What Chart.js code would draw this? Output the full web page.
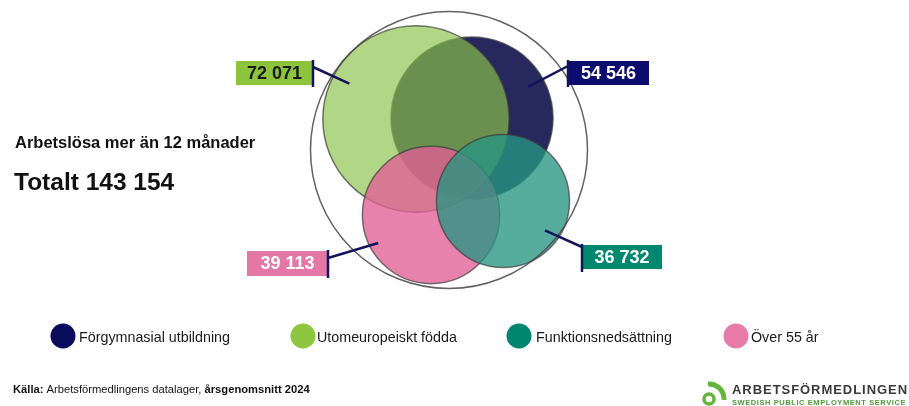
<!DOCTYPE html>
<html lang="sv">
<head>
<meta charset="utf-8">
<script src="https://cdn.jsdelivr.net/npm/chart.js@4/dist/chart.umd.min.js"></script>
<style>
  html, body { margin: 0; padding: 0; background: #fff; }
  #wrap { width: 909px; height: 406px; position: relative; }
</style>
</head>
<body>
<div id="wrap"><canvas id="chart"></canvas></div>
<script>
// data
const setLabels = ['Förgymnasial utbildning', 'Utomeuropeiskt födda', 'Funktionsnedsättning', 'Över 55 år'];
const setValues = [54546, 72071, 36732, 39113];
const totalLabel = 'Totalt';
const totalValue = 143154;
const titleText = 'Arbetslösa mer än 12 månader';
const sourceLabel = 'Källa:';
const sourceText = 'Arbetsförmedlingens datalager, ';
const sourceBold = 'årsgenomsnitt 2024';

// layout of the circle centres (chart units, total circle at 0,0)
const centreX = [23, -33, 54, -18];
const centreY = [-32, -31, 51, 65];

const fills = ['rgba(20,22,80,0.92)', 'rgba(140,195,75,0.68)', 'rgba(40,150,130,0.78)', 'rgba(225,95,150,0.78)'];
const solid = ['#0b0b5c', '#8dc63f', '#00866f', '#e87aa7'];
const boxColors = ['#0c0c6e', '#8cc43c', '#00876f', '#e377a6'];
const boxText = ['#ffffff', '#1a1a1a', '#ffffff', '#ffffff'];

const K = 0.347;
const fmt = v => String(v).replace(/\B(?=(\d{3})+(?!\d))/g, ' ');

// draw order: navy, green, pink, teal
const drawOrder = [0, 1, 3, 2];

const FONT = '"Liberation Sans", Arial, sans-serif';

// label boxes: [x, y, w, h], bar x, bar top, bar bottom, leader y, angle, fraction
const callouts = [
  { box: [568, 61, 81, 24], bx: 568, by0: 60, by1: 87, ly: 66, ang: -29, f: 0.79 },
  { box: [236, 61, 77, 24], bx: 313, by0: 60, by1: 87, ly: 67, ang: 208, f: 0.81 },
  { box: [582, 245, 80, 24], bx: 582, by0: 244, by1: 272, ly: 247, ang: 35, f: 0.77 },
  { box: [247, 251, 81, 25], bx: 328, by0: 250, by1: 278, ly: 258, ang: 152, f: 0.87 }
];

const legendPos = [
  { cx: 63, tx: 79 },
  { cx: 303, tx: 317 },
  { cx: 519, tx: 536 },
  { cx: 736, tx: 751 }
];

function spaced(ctx, text, x, y, width) {
  ctx.letterSpacing = '0px';
  const w = ctx.measureText(text).width;
  ctx.letterSpacing = ((width - w) / text.length) + 'px';
  ctx.fillText(text, x, y);
  ctx.letterSpacing = '0px';
}

const extras = {
  id: 'extras',
  afterDatasetsDraw(chart) {
    const ctx = chart.ctx;
    const meta = chart.getDatasetMeta(1);
    ctx.save();
    // callouts
    drawOrder.forEach((idx, j) => {
      const c = callouts[idx];
      const el = meta.data[j];
      const r = K * Math.sqrt(setValues[idx]);
      const a = c.ang * Math.PI / 180;
      const ex = el.x + Math.cos(a) * r * c.f;
      const ey = el.y + Math.sin(a) * r * c.f;
      ctx.fillStyle = boxColors[idx];
      ctx.fillRect(c.box[0], c.box[1], c.box[2], c.box[3]);
      ctx.strokeStyle = '#14145a';
      ctx.lineWidth = 2.5;
      ctx.beginPath();
      ctx.moveTo(c.bx, c.by0);
      ctx.lineTo(c.bx, c.by1);
      ctx.moveTo(c.bx, c.ly);
      ctx.lineTo(ex, ey);
      ctx.stroke();
      ctx.fillStyle = boxText[idx];
      ctx.font = 'bold 18px ' + FONT;
      ctx.textAlign = 'center';
      ctx.textBaseline = 'middle';
      ctx.fillText(fmt(setValues[idx]), c.box[0] + c.box[2] / 2, c.box[1] + c.box[3] / 2 + 1);
    });

    // titles
    ctx.textAlign = 'left';
    ctx.textBaseline = 'alphabetic';
    ctx.fillStyle = '#111';
    ctx.font = 'bold 16.5px ' + FONT;
    ctx.fillText(titleText, 15, 148);
    ctx.font = 'bold 24.5px ' + FONT;
    ctx.fillText(totalLabel + ' ' + fmt(totalValue), 14, 190);

    // legend
    setLabels.forEach((lab, i) => {
      const p = legendPos[i];
      ctx.fillStyle = solid[i];
      ctx.beginPath();
      ctx.arc(p.cx, 336, 12.5, 0, Math.PI * 2);
      ctx.fill();
      ctx.fillStyle = '#1a1a1a';
      ctx.font = '14.3px ' + FONT;
      ctx.fillText(lab, p.tx, 342);
    });

    // source
    ctx.font = 'bold 11.2px ' + FONT;
    ctx.fillStyle = '#111';
    let x = 13;
    ctx.fillText(sourceLabel, x, 393);
    x += ctx.measureText(sourceLabel + ' ').width;
    ctx.font = '11.2px ' + FONT;
    ctx.fillText(sourceText, x, 393);
    x += ctx.measureText(sourceText).width;
    ctx.font = 'bold 11.2px ' + FONT;
    ctx.fillText(sourceBold, x, 393);

    // logo
    ctx.strokeStyle = '#62b43c';
    ctx.lineCap = 'butt';
    ctx.lineWidth = 3.5;
    ctx.beginPath();
    ctx.arc(709, 399, 5, 0, Math.PI * 2);
    ctx.stroke();
    ctx.lineWidth = 5;
    ctx.beginPath();
    ctx.arc(709, 399, 15, -Math.PI * 0.52, Math.PI * 0.02);
    ctx.stroke();
    ctx.fillStyle = '#3a3a3a';
    ctx.font = 'bold 13px ' + FONT;
    spaced(ctx, 'ARBETSFÖRMEDLINGEN', 732, 394, 176);
    ctx.fillStyle = '#4f9a3a';
    ctx.font = 'bold 7.5px ' + FONT;
    spaced(ctx, 'SWEDISH PUBLIC EMPLOYMENT SERVICE', 732, 405, 174);
    ctx.restore();
  }
};

const ctx = document.getElementById('chart').getContext('2d');
new Chart(ctx, {
  type: 'bubble',
  data: {
    datasets: [
      {
        label: totalLabel,
        data: [{ x: 0, y: 0, v: totalValue }],
        backgroundColor: 'rgba(0,0,0,0)',
        borderColor: 'rgba(70,70,70,0.85)',
        borderWidth: 1.5,
        clip: false,
        radius: c => K * Math.sqrt(c.raw.v) * 1.055
      },
      {
        label: 'Grupper',
        data: drawOrder.map(i => ({ x: centreX[i], y: centreY[i], v: setValues[i] })),
        backgroundColor: drawOrder.map(i => fills[i]),
        borderColor: 'rgba(60,60,60,0.7)',
        borderWidth: 1.5,
        clip: false,
        radius: c => K * Math.sqrt(c.raw.v)
      }
    ]
  },
  options: {
    responsive: true,
    maintainAspectRatio: false,
    animation: false,
    events: [],
    layout: { padding: 0, autoPadding: false },
    scales: {
      x: { type: 'linear', display: false, min: -449, max: 460 },
      y: { type: 'linear', display: false, min: -150, max: 256, reverse: true }
    },
    plugins: {
      legend: { display: false },
      tooltip: { enabled: false }
    }
  },
  plugins: [extras]
});
</script>
</body>
</html>
